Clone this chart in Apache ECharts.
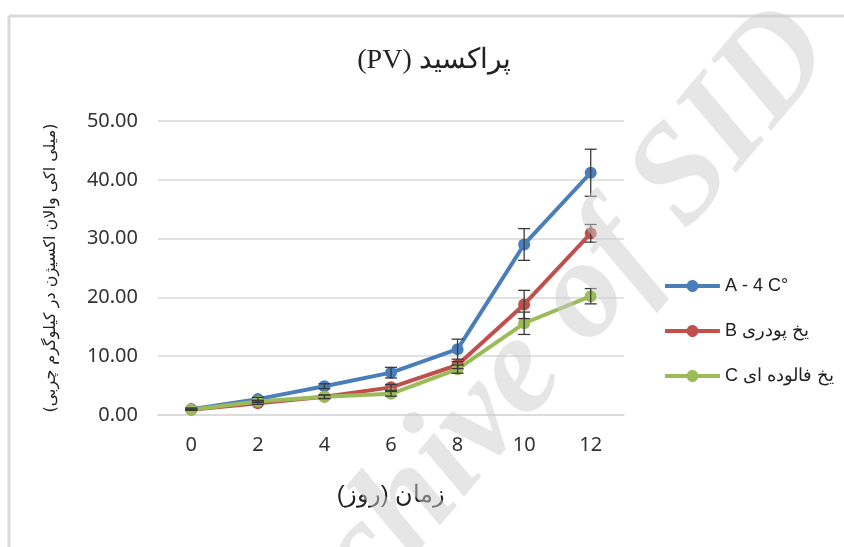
<!DOCTYPE html>
<html>
<head>
<meta charset="utf-8">
<script src="https://cdn.jsdelivr.net/npm/echarts@6/dist/echarts.min.js"></script>
<style>
  html, body { margin: 0; padding: 0; background: #fff; }
  #chart { width: 844px; height: 547px; }
</style>
</head>
<body>
<div id="chart"></div>
<script>
// روزها
var days = ['0', '2', '4', '6', '8', '10', '12'];
var yTicks = [0, 10, 20, 30, 40, 50];

var namesList = ['A - 4 C°', 'B یخ پودری', 'C یخ فالوده ای'];
var seriesA = [1.0, 2.7, 4.9, 7.2, 11.2, 29.0, 41.2];
var errA = [0.2, 0.3, 0.4, 0.9, 1.7, 2.7, 4.0];
var seriesB = [0.9, 2.0, 3.1, 4.7, 8.5, 18.8, 30.9];
var errB = [0.1, 0.2, 0.3, 0.5, 0.6, 2.4, 1.5];
var seriesC = [0.9, 2.3, 3.1, 3.6, 7.8, 15.6, 20.2];
var errC = [0.1, 0.2, 0.3, 0.4, 0.7, 1.9, 1.3];

var colors = ['#4a7ebb', '#c0504d', '#9bbb59'];

// آیکون راهنما: خط ضخیم با دایره وسط
var legendIcon = 'path://M0,4H21.84A6,6,0,0,1,33.16,4H55V8H33.16A6,6,0,0,1,21.84,8H0Z';

var chart = echarts.init(document.getElementById('chart'));

function lineSeries(name, data, color) {
    return {
        name: name,
        type: 'line',
        data: data,
        symbol: 'circle',
        symbolSize: 12,
        lineStyle: { width: 4, color: color },
        itemStyle: { color: color },
        z: 2
    };
}

// میله خطا
function errSeries(data, err) {
    var d = data.map(function (v, i) { return [i, v - err[i], v + err[i]]; });
    return {
        type: 'custom',
        data: d,
        z: 3,
        silent: true,
        renderItem: function (params, api) {
            var lo = api.coord([api.value(0), api.value(1)]);
            var hi = api.coord([api.value(0), api.value(2)]);
            var w = 6;
            var st = { stroke: '#3a3a3a', lineWidth: 1.3 };
            return {
                type: 'group',
                children: [
                    { type: 'line', shape: { x1: lo[0], y1: lo[1], x2: hi[0], y2: hi[1] }, style: st },
                    { type: 'line', shape: { x1: lo[0] - w, y1: lo[1], x2: lo[0] + w, y2: lo[1] }, style: st },
                    { type: 'line', shape: { x1: hi[0] - w, y1: hi[1], x2: hi[0] + w, y2: hi[1] }, style: st }
                ]
            };
        }
    };
}

var option = {
    animation: false,
    backgroundColor: '#fff',
    title: {
        text: '(PV) پراکسید',
        left: 434,
        textAlign: 'center',
        top: 47,
        padding: 0,
        textStyle: { fontFamily: 'Liberation Serif, DejaVu Serif', fontSize: 28, fontWeight: 'normal', color: '#222' }
    },
    legend: {
        orient: 'vertical',
        left: 660,
        top: 272,
        itemWidth: 55,
        itemHeight: 12,
        itemGap: 27,
        icon: legendIcon,
        data: namesList,
        textStyle: { fontFamily: 'sans-serif', fontSize: 18, color: '#222' }
    },
    grid: { left: 158, right: 220, top: 121, bottom: 132 },
    xAxis: {
        type: 'category',
        data: days,
        boundaryGap: true,
        name: 'زمان (روز)\u200F',
        nameLocation: 'middle',
        nameGap: 68,
        nameTextStyle: { fontFamily: 'sans-serif', fontSize: 24, color: '#222' },
        axisLine: { lineStyle: { color: '#d9d9d9', width: 1.5 } },
        axisTick: { show: false },
        axisLabel: { fontFamily: 'Noto Sans', fontSize: 20, color: '#333', margin: 20 }
    },
    yAxis: {
        type: 'value',
        min: yTicks[0],
        max: yTicks[yTicks.length - 1],
        interval: 10,
        name: '\u200F(میلی اکی والان اکسیژن در کیلوگرم چربی)\u200F',
        nameLocation: 'middle',
        nameRotate: 90,
        nameGap: 99,
        nameTextStyle: { fontFamily: 'DejaVu Sans', fontSize: 16, color: '#222' },
        axisLine: { show: false },
        axisTick: { show: false },
        splitLine: { lineStyle: { color: '#d9d9d9', width: 1.5 } },
        axisLabel: {
            fontFamily: 'Noto Sans', fontSize: 20, color: '#333', margin: 20,
            formatter: function (v) { return v.toFixed(2); }
        }
    },
    graphic: [
        // قاب نمودار
        { type: 'line', shape: { x1: 9, y1: 16, x2: 844, y2: 16 }, style: { stroke: '#d9d9d9', lineWidth: 3 } },
        { type: 'line', shape: { x1: 9, y1: 16, x2: 9, y2: 547 }, style: { stroke: '#d9d9d9', lineWidth: 3 } },
        // واترمارک
        {
            type: 'text',
            x: 529, y: 363,
            rotation: 50 * Math.PI / 180,
            z: 100,
            silent: true,
            style: {
                text: 'Archive of SID',
                fontFamily: 'Liberation Serif',
                fontStyle: 'italic',
                fontWeight: 'bold',
                fontSize: 140,
                fill: 'rgba(205,205,205,0.5)',
                align: 'center',
                verticalAlign: 'middle'
            }
        }
    ],
    series: [
        lineSeries(namesList[0], seriesA, colors[0]),
        lineSeries(namesList[1], seriesB, colors[1]),
        lineSeries(namesList[2], seriesC, colors[2]),
        errSeries(seriesA, errA),
        errSeries(seriesB, errB),
        errSeries(seriesC, errC)
    ]
};

chart.setOption(option);
</script>
</body>
</html>
